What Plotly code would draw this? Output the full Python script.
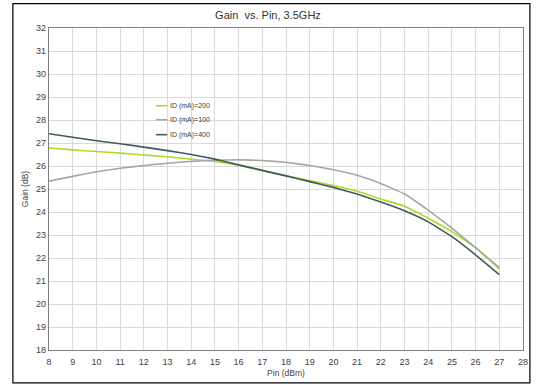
import plotly.graph_objects as go

pin = [8, 9, 10, 11, 12, 13, 14, 15, 16, 17, 18, 19, 20, 21, 22, 23, 24, 25, 26, 27]
gain_200 = [26.78, 26.70, 26.63, 26.56, 26.48, 26.40, 26.30, 26.20, 26.03, 25.80,
            25.58, 25.37, 25.15, 24.90, 24.57, 24.25, 23.73, 23.15, 22.45, 21.52]
gain_100 = [25.34, 25.55, 25.75, 25.90, 26.02, 26.12, 26.20, 26.25, 26.27, 26.24,
            26.16, 26.02, 25.84, 25.60, 25.24, 24.78, 24.08, 23.30, 22.45, 21.58]
gain_400 = [27.40, 27.25, 27.10, 26.97, 26.82, 26.67, 26.50, 26.30, 26.05, 25.81,
            25.57, 25.32, 25.07, 24.78, 24.43, 24.05, 23.57, 22.93, 22.14, 21.28]
series_names = ["ID (mA)=200", "ID (mA)=100", "ID (mA)=400"]
colors = ["#b4d82a", "#a6a6a6", "#3e5c5c"]

W, H = 536, 385
L, R, T, B = 49, 8, 28, 34
pw, ph = W - L - R, H - T - B


def px(xp):
    return (xp - L) / pw


def py(yp):
    return (H - B - yp) / ph


fig = go.Figure()
for name, ys, c in zip(series_names, [gain_200, gain_100, gain_400], colors):
    fig.add_trace(go.Scatter(x=pin, y=ys, mode="lines", name=name, showlegend=False,
                             hoverinfo="skip",
                             line=dict(color=c, width=1.6, shape="spline", smoothing=0.3)))

# manual legend (short line samples like the reference)
shapes = []
annotations = []
leg_y = [106, 120, 135]
for name, c, yy in zip(series_names, colors, leg_y):
    shapes.append(dict(type="line", xref="paper", yref="paper",
                       x0=px(157), x1=px(168.5), y0=py(yy), y1=py(yy),
                       line=dict(color=c, width=1.6)))
    annotations.append(dict(text=name, xref="paper", yref="paper",
                            x=px(169.5), y=py(yy), xanchor="left", yanchor="middle",
                            showarrow=False, font=dict(size=7, color="#404040")))

shapes.append(dict(type="rect", xref="paper", yref="paper",
                   x0=px(12.5), x1=px(535), y0=py(384), y1=py(3.5),
                   line=dict(color="#000000", width=1.2), layer="below"))

fig.update_layout(
    width=W, height=H,
    margin=dict(l=L, r=R, t=T, b=B),
    paper_bgcolor="white", plot_bgcolor="white",
    font=dict(family="Liberation Sans, Arial, sans-serif", color="#404040", size=9),
    title=dict(text="Gain  vs. Pin, 3.5GHz", x=0.5, xanchor="center",
               y=1 - 15 / H, yanchor="middle", yref="container",
               font=dict(size=11, color="#333333")),
    showlegend=False,
    xaxis=dict(range=[8, 28], dtick=1, tick0=8, showgrid=True, gridcolor="#d9d9d9",
               gridwidth=1.3, showline=True, linecolor="#7f7f7f", linewidth=1.3,
               mirror=True, ticks="", zeroline=False, ticklabelstandoff=3,
               title=dict(text="Pin (dBm)", standoff=4, font=dict(size=8.5)),
               tickfont=dict(size=9)),
    yaxis=dict(range=[18, 32], dtick=1, tick0=18, showgrid=True, gridcolor="#d9d9d9",
               gridwidth=1.3, showline=True, linecolor="#7f7f7f", linewidth=1.3,
               mirror=True, ticks="", zeroline=False,
               title=dict(text="Gain (dB)", standoff=6, font=dict(size=8.5)),
               tickfont=dict(size=9)),
    shapes=shapes,
    annotations=annotations,
)

fig.write_html("out.html", config={"displayModeBar": False},
               post_script="document.body.style.margin='0';")
